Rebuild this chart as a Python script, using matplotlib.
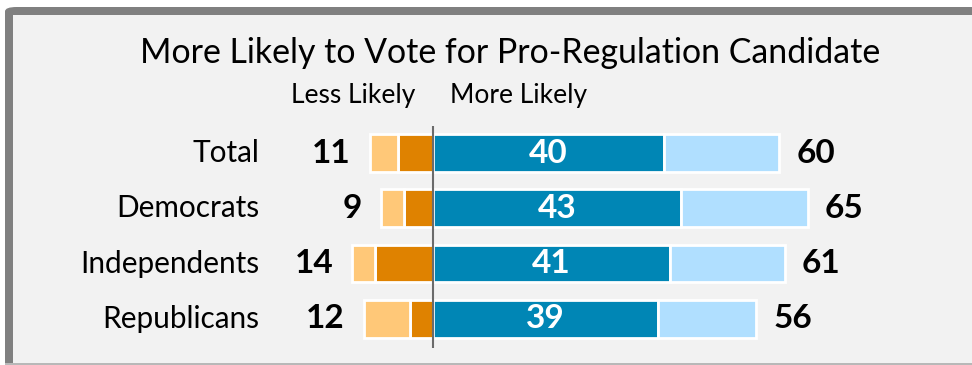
import matplotlib.pyplot as plt
from matplotlib.patches import Rectangle, FancyBboxPatch

plt.rcParams['font.family'] = ['Lato', 'DejaVu Sans']

groups = ["Total", "Democrats", "Independents", "Republicans"]
less_much = [6, 5, 10, 4]      # dark orange
less_some = [5, 4, 4, 8]       # light orange
less_total = [11, 9, 14, 12]
more_much = [40, 43, 41, 39]   # dark blue
more_some = [20, 22, 20, 17]   # light blue
more_total = [60, 65, 61, 56]

W, H = 972, 365
fig = plt.figure(figsize=(W / 100, H / 100), dpi=100)
fig.patch.set_facecolor("white")

# frame (pixel coords converted to figure fractions)
def fx(px):
    return px / W

def fy(py):
    return 1 - py / H

fig.patches.append(FancyBboxPatch((fx(5), fy(372)), fx(1000), 365 / H, boxstyle="round,pad=0,rounding_size=0.012",
                                  transform=fig.transFigure, facecolor="#808080", edgecolor="none", zorder=0))
fig.patches.append(Rectangle((fx(5), 0), fx(980), fy(363), transform=fig.transFigure,
                             facecolor="#b8b8b8", edgecolor="none", zorder=0.5))
fig.patches.append(Rectangle((fx(13), fy(363)), fx(980), (363 - 15) / H, transform=fig.transFigure,
                             facecolor="#f2f2f2", edgecolor="none", zorder=1))

ax = fig.add_axes([0, 0, 1, 1])
ax.set_zorder(3)
ax.set_facecolor("none")
ax.axis("off")

center_px = 433
unit_px = 5.77
row_px = 55.3
first_px = 153
ax.set_xlim(-center_px / unit_px, (W - center_px) / unit_px)
ax.set_ylim((H - first_px) / row_px, -first_px / row_px)

y = list(range(len(groups)))
h = 0.68
edge = dict(edgecolor="white", linewidth=2)

neg_much = [-v for v in less_much]
neg_some = [-v for v in less_some]
ax.barh(y, neg_much, height=h, color="#df8200", **edge)
ax.barh(y, neg_some, left=neg_much, height=h, color="#ffc878", **edge)
ax.barh(y, more_much, height=h, color="#0086b5", **edge)
ax.barh(y, more_some, left=more_much, height=h, color="#b0dfff", **edge)

ax.vlines(0, -0.49, 3.53, color="#6b6b6b", linewidth=1.5, zorder=5)

off = 19 / unit_px
for i, g in enumerate(groups):
    ax.text((259 - center_px) / unit_px, i, g, ha="right", va="center", fontsize=21.4, color="black")
    ax.text(-less_total[i] - off, i, str(less_total[i]), ha="right", va="center",
            fontsize=24, fontweight="bold", color="black")
    ax.text(more_total[i] + 17 / unit_px, i, str(more_total[i]), ha="left", va="center",
            fontsize=24, fontweight="bold", color="black")
    ax.text(more_much[i] / 2, i, str(more_much[i]), ha="center", va="center",
            fontsize=24, fontweight="bold", color="white")

fig.text(fx(510), fy(53), "More Likely to Vote for Pro-Regulation Candidate", ha="center", va="center",
         fontsize=24.4, color="black", zorder=4)
fig.text(fx(415), fy(95), "Less Likely", ha="right", va="center", fontsize=19, color="black", zorder=4)
fig.text(fx(450), fy(95), "More Likely", ha="left", va="center", fontsize=19, color="black", zorder=4)

fig.savefig("out.png", dpi=100)
